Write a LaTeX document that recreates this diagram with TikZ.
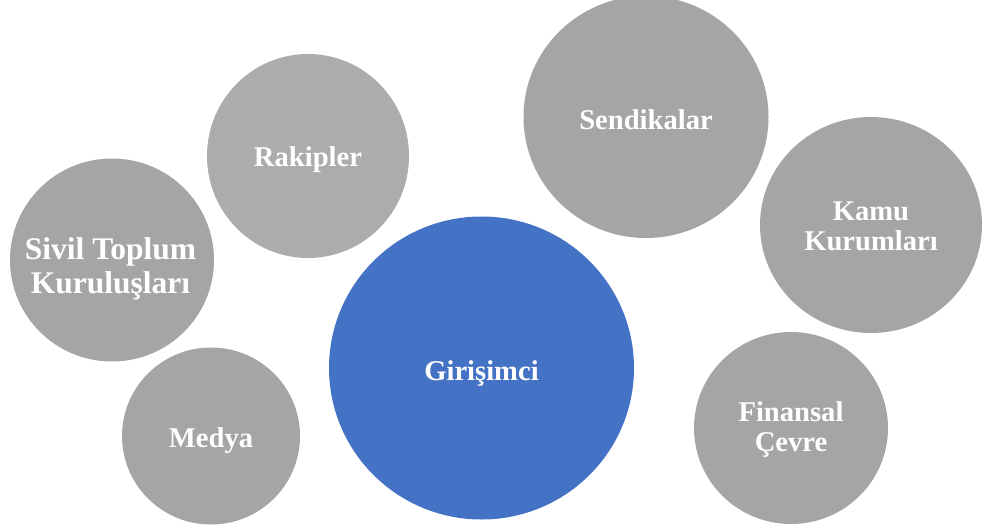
\documentclass[tikz,border=0pt]{standalone}
\usepackage{fontspec}
\setmainfont{Liberation Serif}
\usetikzlibrary{shapes.geometric}
\definecolor{bubblegrey}{HTML}{A5A5A5}
\definecolor{rivalgrey}{HTML}{AEABAB}
\definecolor{mainblue}{HTML}{4472C4}
\begin{document}
\begin{tikzpicture}[x=1pt,y=-1pt,
  bubble/.style={ellipse, inner sep=0pt, fill=bubblegrey},
  bubbletext/.style={inner sep=0pt, text=white, align=center,
    font=\fontsize{28.6}{30}\selectfont\bfseries}]
\useasboundingbox (0,0) rectangle (982,530);
\node[bubble, fill=mainblue, minimum width=305, minimum height=303] (g) at (481.5,368) {};
\node[bubble, fill=rivalgrey, minimum width=202, minimum height=204] (r) at (308,156) {};
\node[bubble, minimum width=204, minimum height=203] (s) at (112,260) {};
\node[bubble, minimum width=178, minimum height=177] (m) at (211,436) {};
\node[bubble, minimum width=245, minimum height=242] (sd) at (646,117) {};
\node[bubble, minimum width=222, minimum height=216] (k) at (871,225) {};
\node[bubble, minimum width=194, minimum height=192] (f) at (791,428) {};
\node[bubbletext] (gt) at ([yshift=-6pt]g.center) {Girişimci};
\node[bubbletext] (rt) at ([yshift=-4pt]r.center) {Rakipler};
\node[bubbletext, font=\fontsize{31.5}{34}\selectfont\bfseries] (st) at ([xshift=-1.5pt,yshift=-8.5pt]s.center) {Sivil Toplum\\Kuruluşları};
\node[bubbletext] (mt) at ([yshift=-5pt]m.center) {Medya};
\node[bubbletext] (sdt) at ([yshift=-3pt]sd.center) {Sendikalar};
\node[bubbletext] (kt) at ([yshift=-1pt]k.center) {Kamu\\Kurumları};
\node[bubbletext] (ft) at ([yshift=-2pt]f.center) {Finansal\\Çevre};
\end{tikzpicture}
\end{document}
